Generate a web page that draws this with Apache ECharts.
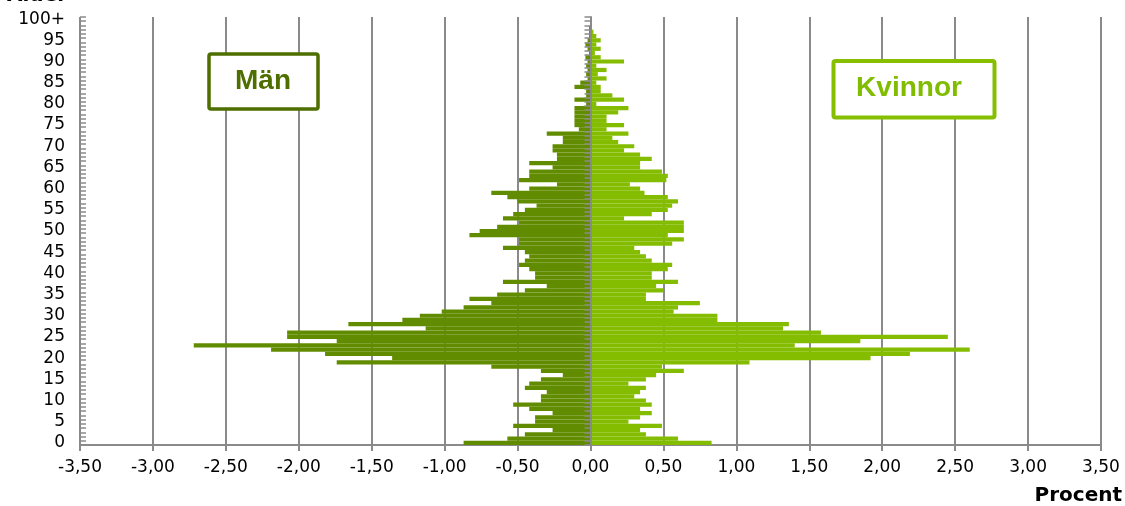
<!DOCTYPE html>
<html>
<head>
<meta charset="utf-8">
<script src="https://cdn.jsdelivr.net/npm/echarts@6/dist/echarts.min.js"></script>
<style>
html,body{margin:0;padding:0;background:#fff;}
#main{width:1125px;height:506px;}
</style>
</head>
<body>
<div id="main"></div>
<script>
// Age categories (0 .. 100+)
const ages = ["0","1","2","3","4","5","6","7","8","9","10","11","12","13","14","15","16","17","18","19",
"20","21","22","23","24","25","26","27","28","29","30","31","32","33","34","35","36","37","38","39",
"40","41","42","43","44","45","46","47","48","49","50","51","52","53","54","55","56","57","58","59",
"60","61","62","63","64","65","66","67","68","69","70","71","72","73","74","75","76","77","78","79",
"80","81","82","83","84","85","86","87","88","89","90","91","92","93","94","95","96","97","98","99","100+"];

// Män (percent, negative = left side), age 0 .. 100+
const men = [-0.87,-0.57,-0.45,-0.26,-0.53,-0.38,-0.38,-0.26,-0.42,-0.53,
-0.34,-0.34,-0.30,-0.45,-0.42,-0.34,-0.19,-0.34,-0.68,-1.74,
-1.36,-1.82,-2.19,-2.72,-1.74,-2.08,-2.08,-1.13,-1.66,-1.29,
-1.17,-1.02,-0.87,-0.68,-0.83,-0.64,-0.45,-0.30,-0.60,-0.38,
-0.38,-0.42,-0.49,-0.45,-0.42,-0.45,-0.60,-0.49,-0.49,-0.83,
-0.76,-0.64,-0.49,-0.60,-0.53,-0.45,-0.37,-0.50,-0.57,-0.68,
-0.42,-0.23,-0.49,-0.42,-0.42,-0.26,-0.42,-0.23,-0.23,-0.26,
-0.26,-0.19,-0.19,-0.30,-0.08,-0.11,-0.11,-0.11,-0.11,-0.11,
-0.03,-0.11,-0.03,-0.03,-0.11,-0.07,-0.02,-0.03,-0.02,-0.03,
-0.02,-0.035,-0.01,-0.02,-0.035,-0.02,-0.01,-0.01,-0.01,0,0];

// Kvinnor (percent), age 0 .. 100+
const women = [0.83,0.60,0.38,0.34,0.49,0.26,0.34,0.42,0.34,0.42,
0.38,0.30,0.34,0.38,0.26,0.38,0.45,0.64,0.49,1.09,
1.92,2.19,2.60,1.40,1.85,2.45,1.58,1.32,1.36,0.87,
0.87,0.57,0.60,0.75,0.38,0.38,0.50,0.45,0.60,0.42,
0.42,0.53,0.56,0.42,0.38,0.34,0.30,0.56,0.64,0.53,
0.64,0.64,0.64,0.23,0.42,0.53,0.56,0.60,0.53,0.37,
0.34,0.27,0.52,0.53,0.49,0.34,0.34,0.42,0.34,0.23,
0.30,0.19,0.15,0.26,0.11,0.23,0.11,0.11,0.19,0.26,
0.04,0.23,0.15,0.07,0.07,0.04,0.11,0.05,0.11,0.04,
0.23,0.07,0.03,0.07,0.04,0.07,0.04,0.02,0.01,0.01,0.01];

const xMin = -3.5, xMax = 3.5, xStep = 0.5;

const GRID = '#8a8a8a';
const MEN_C = '#628c00';
const WOMEN_C = '#84bc00';
const FONT = 'DejaVu Sans';

const chart = echarts.init(document.getElementById('main'), null, {renderer: 'canvas'});
chart.setOption({
  animation: false,
  backgroundColor: '#fff',
  grid: {left: 80, right: 24, top: 17, bottom: 61, containLabel: false},
  xAxis: {
    type: 'value', min: xMin, max: xMax, interval: xStep,
    axisLine: {show: true, onZero: false, lineStyle: {color: GRID, width: 2}},
    axisTick: {show: true, length: 6, lineStyle: {color: GRID, width: 2}},
    axisLabel: {
      color: '#000', fontFamily: FONT, fontSize: 17, margin: 14,
      formatter: v => v.toFixed(2).replace('.', ',')
    },
    splitLine: {show: true, lineStyle: {color: GRID, width: 2}}
  },
  yAxis: [
    { // axis on zero, ticks outwards (left)
      type: 'category', data: ages, position: 'left',
      axisLine: {show: true, onZero: true, lineStyle: {color: GRID, width: 2}},
      axisTick: {show: true, interval: 0, length: 6, inside: false, lineStyle: {color: GRID, width: 1.5}},
      axisLabel: {show: false}, splitLine: {show: false}, z: 5
    },
    { // labels at the left edge
      type: 'category', data: ages, position: 'left',
      axisLine: {show: false, onZero: false},
      axisTick: {show: false},
      axisLabel: {show: true, interval: 4, color: '#000', fontFamily: FONT, fontSize: 17, margin: 15},
      splitLine: {show: false}
    },
    { // ticks on zero, inwards (right)
      type: 'category', data: ages, position: 'left',
      axisLine: {show: false, onZero: true},
      axisTick: {show: true, interval: 0, length: 6, inside: true, lineStyle: {color: GRID, width: 1.5}},
      axisLabel: {show: false}, splitLine: {show: false}, z: 5
    }
  ],
  series: [
    {name: 'Män', type: 'bar', stack: 'pop', yAxisIndex: 0, data: men,
      barCategoryGap: '0%', itemStyle: {color: MEN_C}, z: 2},
    {name: 'Kvinnor', type: 'bar', stack: 'pop', yAxisIndex: 0, data: women,
      barCategoryGap: '0%', itemStyle: {color: WOMEN_C}, z: 2}
  ],
  graphic: [
    {type: 'text', left: 7, top: -14, z: 10,
      style: {text: 'Ålder', font: 'bold 20px "DejaVu Sans"', fill: '#000'}},
    {type: 'text', right: 3, top: 486, z: 10,
      style: {text: 'Procent', font: 'bold 20px "DejaVu Sans"', fill: '#000'}},
    {type: 'rect', shape: {x: 209, y: 54, width: 109, height: 55, r: 2}, z: 10,
      style: {fill: '#fff', stroke: '#4e6e00', lineWidth: 3.5}},
    {type: 'text', z: 11,
      style: {text: 'Män', x: 263, y: 81, align: 'center', verticalAlign: 'middle',
        font: 'bold 28px "Liberation Sans"', fill: '#4e6e00'}},
    {type: 'rect', shape: {x: 833.5, y: 61, width: 161, height: 56.5, r: 2}, z: 10,
      style: {fill: '#fff', stroke: '#86bf00', lineWidth: 4}},
    {type: 'text', z: 11,
      style: {text: 'Kvinnor', x: 909, y: 88, align: 'center', verticalAlign: 'middle',
        font: 'bold 28px "Liberation Sans"', fill: '#80bc00'}}
  ]
});
</script>
</body>
</html>
